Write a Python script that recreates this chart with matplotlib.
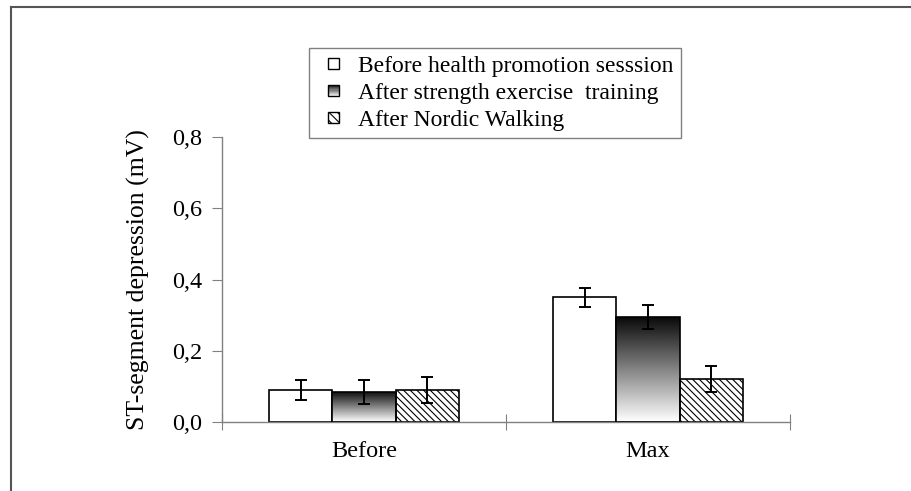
import numpy as np
import matplotlib
matplotlib.use("Agg")
import matplotlib.pyplot as plt
from matplotlib.patches import Rectangle
from matplotlib.legend_handler import HandlerBase
from matplotlib.lines import Line2D

plt.rcParams['font.family'] = ['Liberation Serif', 'DejaVu Serif']
plt.rcParams['hatch.linewidth'] = 0.8

categories = ["Before", "Max"]
series = ["Before health promotion sesssion",
          "After strength exercise  training",
          "After Nordic Walking"]
values = [[0.09, 0.35],
          [0.085, 0.295],
          [0.09, 0.12]]
errors = [[0.027, 0.026],
          [0.034, 0.033],
          [0.036, 0.036]]
yticks = [0.0, 0.2, 0.4, 0.6, 0.8]
ytick_labels = ["0,0", "0,2", "0,4", "0,6", "0,8"]


class HandlerSquare(HandlerBase):
    # small square sitting at the right end of the handle box
    def __init__(self, kind):
        super().__init__()
        self.kind = kind

    def create_artists(self, legend, orig_handle, xdescent, ydescent,
                       width, height, fontsize, trans):
        s = 11 * 72 / 100
        x0 = -xdescent + width - s
        y0 = -ydescent + (height - s) / 2
        arts = []
        if self.kind == 'grad':
            n = 10
            for k in range(n):
                g = 0.1 + 0.85 * k / (n - 1)
                arts.append(Rectangle((x0, y0 + s * (1 - (k + 1) / n)), s, s / n,
                                      facecolor=str(g), edgecolor='none',
                                      transform=trans))
            arts.append(Rectangle((x0, y0), s, s, facecolor='none',
                                  edgecolor='black', lw=1.0, transform=trans))
        elif self.kind == 'hatch':
            arts.append(Rectangle((x0, y0), s, s, facecolor='white',
                                  edgecolor='black', hatch='\\\\\\\\',
                                  lw=1.0, transform=trans))
        else:
            arts.append(Rectangle((x0, y0), s, s, facecolor='white',
                                  edgecolor='black', lw=1.0, transform=trans))
        return arts


fig = plt.figure(figsize=(9.12, 4.91), dpi=100)
ax = fig.add_axes([222 / 912, 1 - 422 / 491, 568 / 912, 285 / 491])

x = np.arange(len(categories)) + 0.5
w = 0.222
offsets = [-w, 0, w]
grad = np.linspace(1.0, 0.03, 256).reshape(-1, 1)

handles = []
for i in range(3):
    xs = x + offsets[i]
    if i == 0:
        bars = ax.bar(xs, values[i], w, color='white', edgecolor='black',
                      lw=1.2, zorder=2)
    elif i == 1:
        bars = ax.bar(xs, values[i], w, color='none', edgecolor='black',
                      lw=1.2, zorder=3)
        for b in bars:
            bx, by = b.get_x(), b.get_y()
            im = ax.imshow(grad, cmap='gray', vmin=0, vmax=1, aspect='auto',
                           extent=(bx, bx + b.get_width(), by, by + b.get_height()),
                           origin='lower', zorder=2, interpolation='bilinear')
            im.set_clip_path(b)
    else:
        bars = ax.bar(xs, values[i], w, color='white', edgecolor='black',
                      hatch='\\\\\\\\\\', lw=1.2, zorder=2)
    ax.errorbar(xs, values[i], yerr=errors[i], fmt='none', ecolor='black',
                elinewidth=1.4, capsize=4.5, capthick=1.4, zorder=5)
    handles.append(bars)

ax.set_xlim(0, 2)
ax.set_ylim(0, 0.8)
ax.set_aspect('auto')
ax.set_yticks(yticks)
ax.set_yticklabels(ytick_labels, fontsize=17.5)
ax.set_xticks([0, 1, 2])
ax.set_xticklabels([])
ax.set_xticks(x, minor=True)
ax.set_xticklabels(categories, minor=True, fontsize=17.5)
ax.tick_params(axis='x', which='minor', length=0, pad=14)
ax.tick_params(axis='x', which='major', direction='inout', length=12,
               color='#808080')
ax.tick_params(axis='y', direction='out', length=7, color='#808080', pad=7)

for s in ['top', 'right']:
    ax.spines[s].set_visible(False)
for s in ['left', 'bottom']:
    ax.spines[s].set_color('#808080')
    ax.spines[s].set_linewidth(1.0)

ax.set_ylabel("ST-segment depression (mV)", fontsize=18.5, labelpad=16)

leg = ax.legend(handles, series, loc='upper left',
                bbox_to_anchor=(309 / 912, 1 - 48 / 491),
                bbox_transform=fig.transFigure, borderaxespad=0, fontsize=17,
                handlelength=0.98, handleheight=0.7, handletextpad=0.8,
                labelspacing=0.24, borderpad=0.3, fancybox=False,
                edgecolor='#808080', framealpha=1,
                handler_map={handles[0]: HandlerSquare('plain'),
                             handles[1]: HandlerSquare('grad'),
                             handles[2]: HandlerSquare('hatch')})
leg.get_frame().set_linewidth(1.0)

fig.add_artist(Line2D([11 / 912, 1], [1 - 7 / 491, 1 - 7 / 491],
                      transform=fig.transFigure, color='#555555', lw=1.5))
fig.add_artist(Line2D([11 / 912, 11 / 912], [0, 1 - 7 / 491],
                      transform=fig.transFigure, color='#555555', lw=1.5))

fig.savefig("out.png", dpi=100)
